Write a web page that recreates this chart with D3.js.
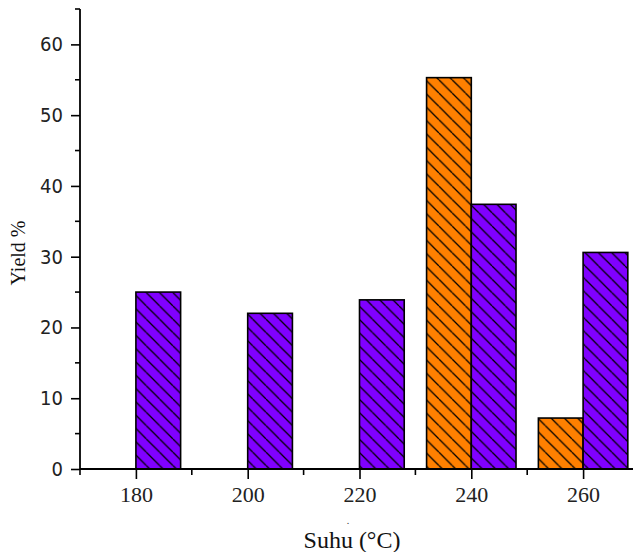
<!DOCTYPE html>
<meta charset="utf-8">
<style>
body { margin: 0; background: #fff; }
svg { display: block; }
.ytick text { font-family: 'DejaVu Sans Condensed', 'DejaVu Sans', sans-serif; font-size: 20px; fill: #222; }
.xtick text { font-family: 'Liberation Serif', serif; font-size: 22px; fill: #222; }
</style>
<svg width="633" height="552"></svg>
<script src="https://d3js.org/d3.v7.min.js"></script>
<script>
// data
var temps = [180, 200, 220, 240, 260];
var orangeYield = [null, null, null, 55.3, 7.2];
var purpleYield = [25.0, 22.0, 23.9, 37.4, 30.6];
var yTicks = [0, 10, 20, 30, 40, 50, 60];
var yMinor = [5, 15, 25, 35, 45, 55, 65];
var xTicks = [180, 200, 220, 240, 260];
var xMinor = [170, 190, 210, 230, 250];
var barW = 8; // in °C units

var svg = d3.select("svg");

var x = d3.scaleLinear().domain([170, 270]).range([80, 639]);
var y = d3.scaleLinear().domain([0, 65]).range([469, 9]);

// hatch patterns
var defs = svg.append("defs");
function hatch(id, color) {
  var s = 13.3;
  var p = defs.append("pattern")
      .attr("id", id)
      .attr("patternUnits", "userSpaceOnUse")
      .attr("width", s).attr("height", s);
  p.append("rect").attr("width", s).attr("height", s).attr("fill", color);
  p.append("path")
      .attr("d", "M0,0L" + s + "," + s + "M" + (-s) + ",0L0," + s + "M0," + (-s) + "L" + s + ",0")
      .attr("stroke", "#000").attr("stroke-width", 1.3);
}
hatch("hOrange", "#FF8000");
hatch("hPurple", "#8000FF");

var bars = svg.append("g");

// orange bars end at the temperature, purple bars start at it
bars.selectAll(".orange")
  .data(temps.map(function(t, i) { return {t: t, v: orangeYield[i]}; }).filter(function(d) { return d.v != null; }))
  .enter().append("rect")
    .attr("class", "orange")
    .attr("x", function(d) { return x(d.t - barW); })
    .attr("y", function(d) { return y(d.v); })
    .attr("width", function(d) { return x(d.t) - x(d.t - barW); })
    .attr("height", function(d) { return y(0) - y(d.v); })
    .attr("fill", "url(#hOrange)")
    .attr("stroke", "#000").attr("stroke-width", 1.6);

bars.selectAll(".purple")
  .data(temps.map(function(t, i) { return {t: t, v: purpleYield[i]}; }))
  .enter().append("rect")
    .attr("class", "purple")
    .attr("x", function(d) { return x(d.t); })
    .attr("y", function(d) { return y(d.v); })
    .attr("width", function(d) { return x(d.t + barW) - x(d.t); })
    .attr("height", function(d) { return y(0) - y(d.v); })
    .attr("fill", "url(#hPurple)")
    .attr("stroke", "#000").attr("stroke-width", 1.6);

// y axis
var yAxis = svg.append("g").attr("class", "ytick").attr("transform", "translate(80,0)");
yAxis.call(d3.axisLeft(y).tickValues(yTicks).tickSize(9).tickPadding(8));
yAxis.select(".domain").remove();
yAxis.selectAll(".tick line").attr("stroke", "#000").attr("stroke-width", 1.6);
yAxis.selectAll(".minor").data(yMinor).enter().append("line")
    .attr("class", "minor")
    .attr("x1", -5).attr("x2", 0)
    .attr("y1", function(d) { return y(d); }).attr("y2", function(d) { return y(d); })
    .attr("stroke", "#000").attr("stroke-width", 1.6);
yAxis.append("line")
    .attr("x1", 0).attr("x2", 0).attr("y1", y(65)).attr("y2", y(0))
    .attr("stroke", "#000").attr("stroke-width", 1.8);

// x axis
var xAxis = svg.append("g").attr("class", "xtick").attr("transform", "translate(0," + y(0) + ")");
xAxis.call(d3.axisBottom(x).tickValues(xTicks).tickSize(10).tickPadding(7).tickFormat(d3.format("d")));
xAxis.select(".domain").remove();
xAxis.selectAll(".tick line").attr("stroke", "#000").attr("stroke-width", 1.6);
xAxis.selectAll(".minor").data(xMinor).enter().append("line")
    .attr("class", "minor")
    .attr("y1", 0).attr("y2", 6)
    .attr("x1", function(d) { return x(d); }).attr("x2", function(d) { return x(d); })
    .attr("stroke", "#000").attr("stroke-width", 1.6);
xAxis.append("line")
    .attr("x1", x(170)).attr("x2", x(270)).attr("y1", 0).attr("y2", 0)
    .attr("stroke", "#000").attr("stroke-width", 1.8);

// axis titles
svg.append("text")
    .attr("transform", "translate(25,253) rotate(-90)")
    .attr("text-anchor", "middle")
    .style("font-family", "'Liberation Serif', serif")
    .style("font-size", "20px")
    .attr("fill", "#111")
    .text("Yield %");

svg.append("text")
    .attr("x", 348).attr("y", 524)
    .attr("text-anchor", "middle")
    .style("font-family", "'Liberation Serif', serif")
    .style("font-size", "10px")
    .attr("fill", "#333")
    .text(".");

svg.append("text")
    .attr("x", 352).attr("y", 548)
    .attr("text-anchor", "middle")
    .style("font-family", "'Liberation Serif', serif")
    .style("font-size", "24px")
    .attr("fill", "#111")
    .text("Suhu (°C)");
</script>
